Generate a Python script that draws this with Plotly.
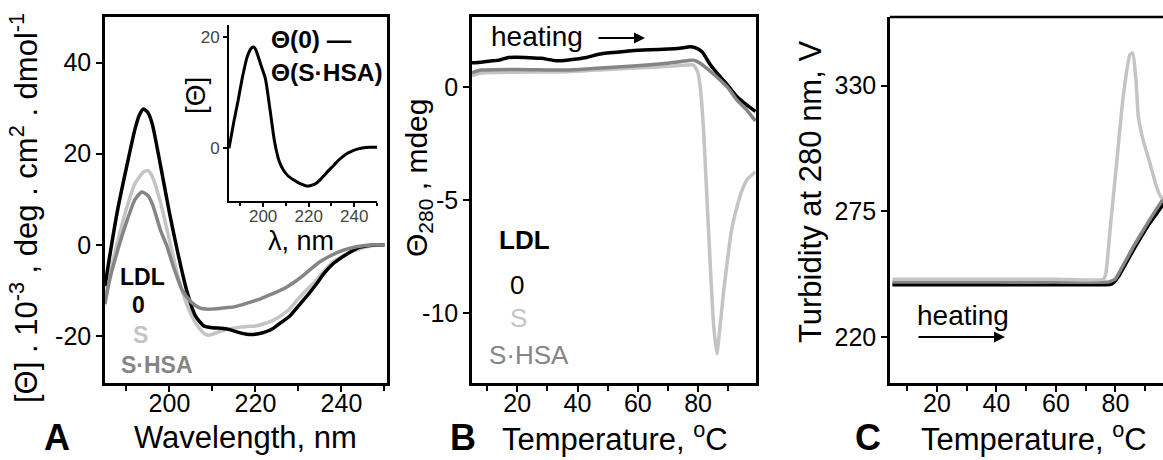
import plotly.graph_objects as go

W, H = 1163, 460

# ---------------- Panel A: CD spectra ----------------
wl_0 = [185, 186, 188, 190, 192, 193, 194, 195, 196, 198, 200, 202, 204, 206, 208, 210, 212, 214, 216, 218,
        220, 222, 224, 226, 228, 230, 232, 234, 236, 238, 240, 242, 244, 246, 248, 250]
cd_0 = [-9, -3, 8, 17, 25.5, 28.5, 29.8, 29, 26.5, 17, 7, -2, -10, -15.5, -17.8, -18.2, -18.3, -18.6, -19.2, -19.6,
        -19.6, -19.2, -18.4, -17, -15.6, -13.4, -11.2, -8.8, -6.2, -4.2, -2.8, -1.6, -0.6, -0.2, 0, 0]

wl_s = [185, 186, 188, 190, 192, 194, 195, 196, 198, 200, 202, 204, 206, 208, 209, 210, 212, 214, 216, 218,
        220, 222, 224, 226, 228, 230, 232, 234, 236, 238, 240, 242, 244, 246, 248, 250]
cd_s = [-12, -7, 1, 8, 13.5, 16, 16.3, 15, 9, 1, -7, -13, -17, -19.4, -19.8, -19.6, -18.9, -18.4, -18.1, -17.9,
        -17.8, -17.3, -16.6, -15.5, -14, -11.8, -9.8, -7.9, -5.7, -3.8, -2.6, -1.6, -0.9, -0.4, -0.1, 0]

wl_shsa = [185, 186, 188, 190, 192, 193.6, 195, 196, 198, 199.3, 201, 203, 205, 207, 209, 211, 213, 215, 217, 219,
           221, 223, 225, 227, 229, 231, 233, 235, 237, 239, 241, 243, 245, 247, 250]
cd_shsa = [-13, -8, -1, 5, 10, 11.6, 10.8, 9, 3, 0, -5, -10, -12.5, -13.8, -14.1, -14.0, -13.8, -13.6, -13.1, -12.5,
           -11.9, -11.1, -10.3, -9.4, -8.2, -6.8, -5.2, -3.7, -2.6, -1.7, -1.0, -0.5, -0.2, 0, 0]

# inset: difference spectrum
wl_diff = [185, 187, 189, 191, 193, 195, 196, 197, 199, 201, 203, 205, 207, 209, 211, 213, 215, 217, 219, 221,
           223, 225, 227, 229, 231, 233, 235, 237, 239, 241, 243, 245, 247, 250]
cd_diff = [0, 4.5, 8.6, 13, 16.5, 18.1, 18.2, 17.5, 15, 12.5, 7, 1.2, -2.3, -4, -5, -5.6, -6.1, -6.5, -6.8, -6.7,
           -6.4, -5.7, -4.8, -3.9, -3.1, -2.2, -1.5, -0.9, -0.5, -0.2, 0, 0.15, 0.2, 0.2]

# ---------------- Panel B: CD at 280 nm vs temperature ----------------
tb_0 = [5, 8, 11, 14, 17, 20, 24, 28, 33, 37, 43, 47, 52, 58, 64, 70, 74, 77.4, 79, 81.3, 84, 87.3, 90, 92.9, 96, 99]
mb_0 = [1.07, 1.1, 1.15, 1.19, 1.31, 1.32, 1.3, 1.27, 1.16, 1.2, 1.31, 1.45, 1.53, 1.61, 1.65, 1.68, 1.72, 1.78,
        1.74, 1.56, 1.0, 0.46, 0.05, -0.43, -0.78, -1.08]

tb_shsa = [5, 8, 20, 36.5, 45, 58.5, 68, 76.3, 78.5, 80.7, 84, 87.3, 90, 92.9, 96, 99]
mb_shsa = [0.63, 0.75, 0.78, 0.75, 0.82, 0.93, 1.03, 1.16, 1.19, 1.05, 0.7, 0.31, -0.05, -0.58, -1.0, -1.5]

tb_s = [5, 8, 20, 36.5, 50, 65, 76.3, 78.5, 80, 80.7, 81.8, 82.9, 84, 85.1, 86.2, 87.5, 88.5, 89.6, 91, 92.9,
        94.5, 96.2, 99]
mb_s = [0.5, 0.62, 0.66, 0.68, 0.78, 0.88, 0.97, 0.98, 0.6, 0.0, -1.9, -4.85, -7.8, -10.45, -11.8, -10.3, -9.0,
        -7.8, -6.4, -5.3, -4.6, -4.1, -3.75]

# ---------------- Panel C: turbidity vs temperature ----------------
tc_0 = [5, 20, 40, 60, 78, 79.5, 81, 86, 91.6, 95.5, 99]
vc_0 = [243, 243, 243, 243, 243, 244, 246.5, 258, 270, 277, 284]

tc_shsa = [5, 20, 40, 60, 78, 80, 86, 91.6, 95.5, 99]
vc_shsa = [244.2, 244.2, 244.1, 244.1, 244.2, 245.5, 259.5, 271.5, 279.4, 286]

tc_s = [5, 20, 40, 60, 76, 76.8, 78.2, 80.4, 82.6, 84.9, 85.8, 86.9, 87.7, 89.3, 91.6, 93.8, 95.5, 99]
vc_s = [245.4, 245.4, 245.4, 245.4, 245.4, 248, 267, 296, 325, 343.6, 344.3, 332.6, 316.5, 306.3, 296.1, 285.9,
        281, 286]

# tick labels (hyphen minus, as in the reference)
ticks_a_y = [-20, 0, 20, 40]
labels_a_y = ["-20", "0", "20", "40"]
ticks_b_y = [-10, -5, 0]
labels_b_y = ["-10", "-5", "0"]
ticks_c_y = [220, 275, 330]
ticks_temp = [20, 40, 60, 80]
ticks_wl = [200, 220, 240]

BLACK = "#000000"
LIGHT = "#c4c4c4"
DARK = "#858585"
FONT = "Arial, Liberation Sans, sans-serif"

fig = go.Figure()


def line(x, y, color, xa, ya, width=3.5, smooth=0.6):
    fig.add_trace(go.Scatter(x=x, y=y, mode="lines", xaxis=xa, yaxis=ya, showlegend=False,
                             line=dict(color=color, width=width, shape="spline", smoothing=smooth),
                             hoverinfo="skip"))


# Panel A
line(wl_s, cd_s, LIGHT, "x", "y")
line(wl_0, cd_0, BLACK, "x", "y")
line(wl_shsa, cd_shsa, DARK, "x", "y")
# inset
line(wl_diff, cd_diff, BLACK, "x4", "y4", width=3)
# Panel B
line(tb_s, mb_s, LIGHT, "x2", "y2", smooth=0.5)
line(tb_0, mb_0, BLACK, "x2", "y2", smooth=0.5)
line(tb_shsa, mb_shsa, DARK, "x2", "y2", smooth=0.5)
# Panel C
line(tc_0, vc_0, BLACK, "x3", "y3", smooth=0.3)
line(tc_shsa, vc_shsa, DARK, "x3", "y3", smooth=0.3)
line(tc_s, vc_s, LIGHT, "x3", "y3", smooth=0.5)


def px(x):
    return x / W


def py(y):
    return 1 - y / H


def axis_style(**kw):
    d = dict(showline=True, linecolor="black", linewidth=2.5, ticks="outside", ticklen=6, tickwidth=2,
             tickcolor="black", tickfont=dict(size=25, color="black", family=FONT), showgrid=False,
             zeroline=False, layer="above traces")
    d.update(kw)
    return d


minor10 = dict(ticks="outside", ticklen=5, tickwidth=2, tickcolor="black", dtick=10, tick0=0)

layout = dict(
    width=W, height=H, margin=dict(l=0, r=0, t=0, b=0),
    paper_bgcolor="white", plot_bgcolor="white",
    font=dict(family=FONT, color="black"),
    xaxis=axis_style(domain=[px(105), px(387)], range=[185, 250.6], tickmode="array", tickvals=ticks_wl,
                     mirror=True, minor=minor10, anchor="y", ticklabelstandoff=-10),
    yaxis=axis_style(domain=[py(383), py(17)], range=[-30.3, 50], tickmode="array", tickvals=ticks_a_y,
                     ticktext=labels_a_y, mirror=True, anchor="x"),
    xaxis2=axis_style(domain=[px(472), px(756)], range=[5, 99.2], tickmode="array", tickvals=ticks_temp,
                      mirror=True, minor=minor10, anchor="y2", ticklabelstandoff=-10),
    yaxis2=axis_style(domain=[py(383), py(17)], range=[-13.1, 3.1], tickmode="array", tickvals=ticks_b_y,
                      ticktext=labels_b_y, mirror=True, anchor="x2"),
    xaxis3=axis_style(domain=[px(890), 1.0], range=[4.2, 96], tickmode="array", tickvals=ticks_temp,
                      minor=minor10, anchor="y3", ticklabelstandoff=-10),
    yaxis3=axis_style(domain=[py(383), py(17)], range=[200, 360], tickmode="array", tickvals=ticks_c_y,
                      anchor="x3"),
    xaxis4=axis_style(domain=[px(229), px(377)], range=[185, 250], tickmode="array", tickvals=ticks_wl,
                      linewidth=2, ticklen=4, tickfont=dict(size=17, color="#444444", family=FONT), anchor="y4",
                      ticklabelstandoff=-5,
                      minor=dict(ticks="outside", ticklen=3, tickwidth=1.5, tickcolor="black", dtick=10, tick0=0)),
    yaxis4=axis_style(domain=[py(201), py(25)], range=[-9.5, 22.2], tickmode="array", tickvals=[0, 20],
                      linewidth=2, ticklen=4, tickfont=dict(size=17, color="#444444", family=FONT), anchor="x4"),
)
fig.update_layout(**layout)

# top border of panel C (right edge is cut off in the reference)
fig.add_shape(type="line", xref="x3 domain", yref="y3 domain", x0=0, x1=1, y0=1, y1=1,
              line=dict(color="black", width=2.5))

ann = []


def text(x, y, s, size, color="black", angle=0, xanchor="center"):
    ann.append(dict(x=px(x), y=py(y), xref="paper", yref="paper", text=s, showarrow=False,
                    font=dict(size=size, color=color, family=FONT), textangle=angle,
                    xanchor=xanchor, yanchor="middle"))


def arrow(x0, x1, y):
    ann.append(dict(x=px(x1), y=py(y), xref="paper", yref="paper", ax=-(x1 - x0), ay=0, axref="pixel",
                    ayref="pixel", text="", showarrow=True, arrowhead=2, arrowsize=1.1, arrowwidth=2,
                    arrowcolor="black"))


# Panel A labels
text(142, 277, "<b>LDL</b>", 23)
text(138, 305, "<b>0</b>", 23)
text(140, 335, "<b>S</b>", 23, LIGHT)
text(157, 365, "<b>S·HSA</b>", 23, DARK)
text(269, 40, "<b>Θ(0) —</b>", 24.5, xanchor="left")
text(269, 73, "<b>Θ(S·HSA)</b>", 24.5, xanchor="left")
text(195, 96, "[Θ]", 28, angle=-90)
text(301, 241, "λ, nm", 27)
text(57, 437, "<b>A</b>", 36)
text(245, 437, "Wavelength, nm", 31)
text(24, 208, "[Θ] . 10<sup>-3</sup> , deg . cm<sup>2</sup> . dmol<sup>-1</sup>", 31, angle=-90)

# Panel B labels
text(524, 240, "<b>LDL</b>", 26)
text(517, 285, "0", 26)
text(518, 318, "S", 26, LIGHT)
text(529, 355, "S·HSA", 26, DARK)
text(537, 36, "heating", 28)
arrow(597, 645, 38)
text(463, 437, "<b>B</b>", 36)
text(615, 437, "Temperature, <sup>o</sup>C", 31)
text(418, 178, "Θ<sub>280</sub> , mdeg", 30, angle=-90)

# Panel C labels
text(963, 315, "heating", 28)
arrow(917, 1005, 337)
text(868, 437, "<b>C</b>", 36)
text(1034, 437, "Temperature, <sup>o</sup>C", 31)
text(810, 192, "Turbidity at 280 nm, V", 31, angle=-90)

fig.update_layout(annotations=ann)
fig.write_html("out.html", config={"displayModeBar": False},
               post_script="document.body.style.margin='0';document.body.style.overflow='hidden';")
